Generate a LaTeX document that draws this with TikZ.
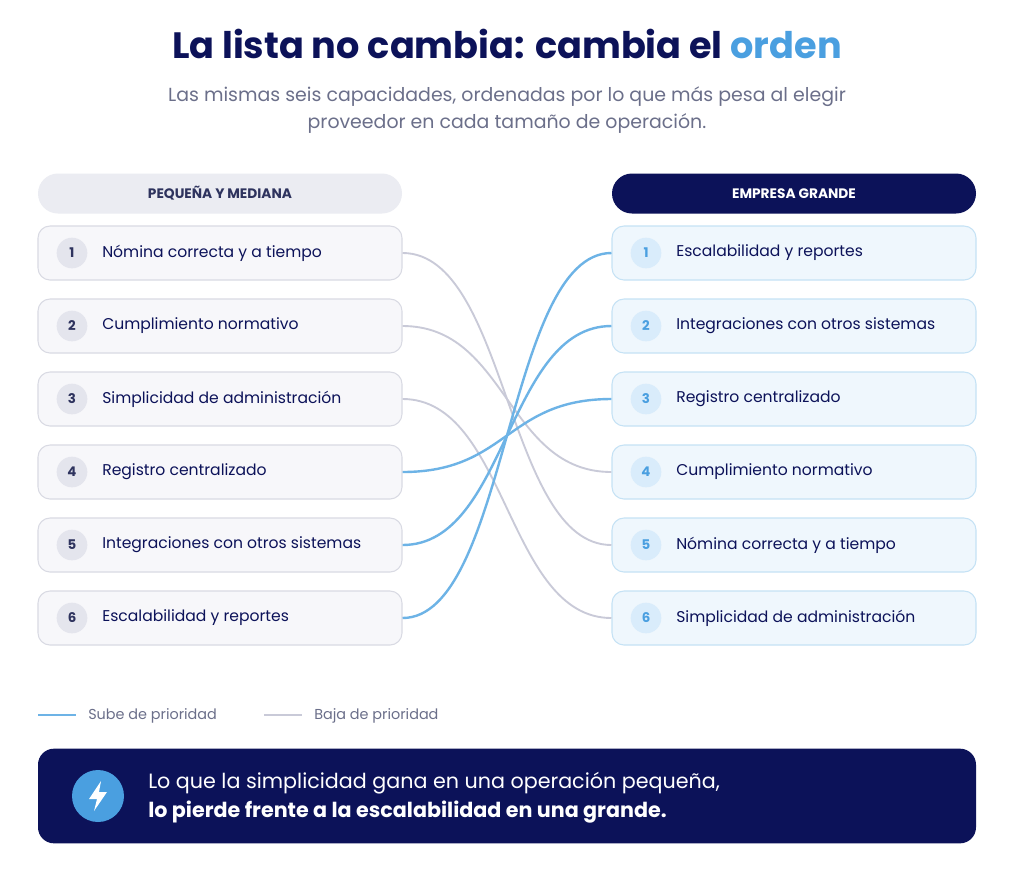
\documentclass[tikz,border=0pt]{standalone}
\usepackage{fontspec}
\setmainfont{Poppins}
\definecolor{navy}{HTML}{0C1259}
\definecolor{accent}{HTML}{4A9FE0}
\definecolor{sub}{HTML}{6B6F8A}
\definecolor{lgray}{HTML}{EBECF2}
\definecolor{lbox}{HTML}{F7F7FA}
\definecolor{lbord}{HTML}{D9DAE3}
\definecolor{lcirc}{HTML}{E4E5ED}
\definecolor{rbox}{HTML}{EFF7FD}
\definecolor{rbord}{HTML}{C5E2F5}
\definecolor{rcirc}{HTML}{D9ECFB}
\definecolor{ltxt}{HTML}{2E335E}
\definecolor{gline}{HTML}{C9CAD8}
\definecolor{bline}{HTML}{6DB3E6}
\begin{document}
\begin{tikzpicture}[x=0.75pt,y=-0.75pt,
 lb/.style={draw=lbord,fill=lbox,rounded corners=9pt,line width=0.8pt,minimum width=273pt,minimum height=40.5pt,inner sep=0pt},
 rb/.style={draw=rbord,fill=rbox,rounded corners=9pt,line width=0.8pt,minimum width=273pt,minimum height=40.5pt,inner sep=0pt},
 lc/.style={circle,fill=lcirc,minimum size=23pt,inner sep=0pt,font=\fontsize{10}{12}\selectfont\bfseries,text=ltxt},
 rc/.style={circle,fill=rcirc,minimum size=23pt,inner sep=0pt,font=\fontsize{10}{12}\selectfont\bfseries,text=accent},
 tx/.style={anchor=west,font=\fontsize{11.7}{14}\selectfont,text=navy,inner sep=0pt},
 up/.style={draw=bline,line width=1.8pt},
 dn/.style={draw=gline,line width=1.4pt},
 hd/.style={rounded corners=15pt,minimum width=273pt,minimum height=30pt,inner sep=0pt,font=\fontsize{10.3}{12}\selectfont\bfseries}]
\useasboundingbox[fill=white] (0,0) rectangle (1024,890);
\node[font=\fontsize{27.5}{32}\selectfont\bfseries,text=navy] (title) at (507,44) {La lista no cambia: cambia el \textcolor{accent}{orden}};
\node[font=\fontsize{14.2}{20.5}\selectfont,text=sub,align=center] (subt) at (507,110) {Las mismas seis capacidades, ordenadas por lo que más pesa al elegir\\proveedor en cada tamaño de operación.};
\node[hd,fill=lgray,text=ltxt] (hl) at (220,193.5) {PEQUEÑA Y MEDIANA};
\node[hd,fill=navy,text=white] (hr) at (794,193.5) {EMPRESA GRANDE};
\foreach \i/\t in {1/Nómina correcta y a tiempo,2/Cumplimiento normativo,3/Simplicidad de administración,4/Registro centralizado,5/Integraciones con otros sistemas,6/Escalabilidad y reportes}{
 \node[lb] (L\i) at (220,180+73*\i) {};
 \node[lc] (lc\i) at (72,180+73*\i) {\i};
 \node[tx] (lt\i) at (102,180+73*\i) {\t};
}
\foreach \i/\t in {1/Escalabilidad y reportes,2/Integraciones con otros sistemas,3/Registro centralizado,4/Cumplimiento normativo,5/Nómina correcta y a tiempo,6/Simplicidad de administración}{
 \node[rb] (R\i) at (794,180+73*\i) {};
 \node[rc] (rc\i) at (646,180+73*\i) {\i};
 \node[tx] (rt\i) at (676,180+73*\i) {\t};
}
\foreach \a/\b in {1/5,2/4,3/6}{
 \draw[dn] (L\a.east) .. controls +(105,0) and +(-105,0) .. (R\b.west);
}
\foreach \a/\b in {4/3,5/2,6/1}{
 \draw[up] (L\a.east) .. controls +(105,0) and +(-105,0) .. (R\b.west);
}
\coordinate (ua) at (38,715); \coordinate (ub) at (76,715);
\draw[up] (ua) -- (ub);
\node[tx,font=\fontsize{10.8}{12}\selectfont,text=sub] (ul) at (88,716) {Sube de prioridad};
\coordinate (da) at (264,715); \coordinate (db) at (302,715);
\draw[dn] (da) -- (db);
\node[tx,font=\fontsize{10.8}{12}\selectfont,text=sub] (dl) at (314,716) {Baja de prioridad};
\node[fill=navy,rounded corners=12pt,minimum width=703.5pt,minimum height=71pt,inner sep=0pt] (ban) at (507,796) {};
\node[circle,fill=accent,minimum size=39pt,inner sep=0pt] (ic) at (98,796) {};
\fill[white] (101,781) -- (89,799) -- (97,799) -- (94,811) -- (107,792) -- (99,792) -- cycle;
\node[anchor=west,align=left,text=white,font=\fontsize{15.5}{22}\selectfont,inner sep=0pt] (bt) at (148,798) {Lo que la simplicidad gana en una operación pequeña,\\\textbf{lo pierde frente a la escalabilidad en una grande.}};
\end{tikzpicture}
\end{document}
